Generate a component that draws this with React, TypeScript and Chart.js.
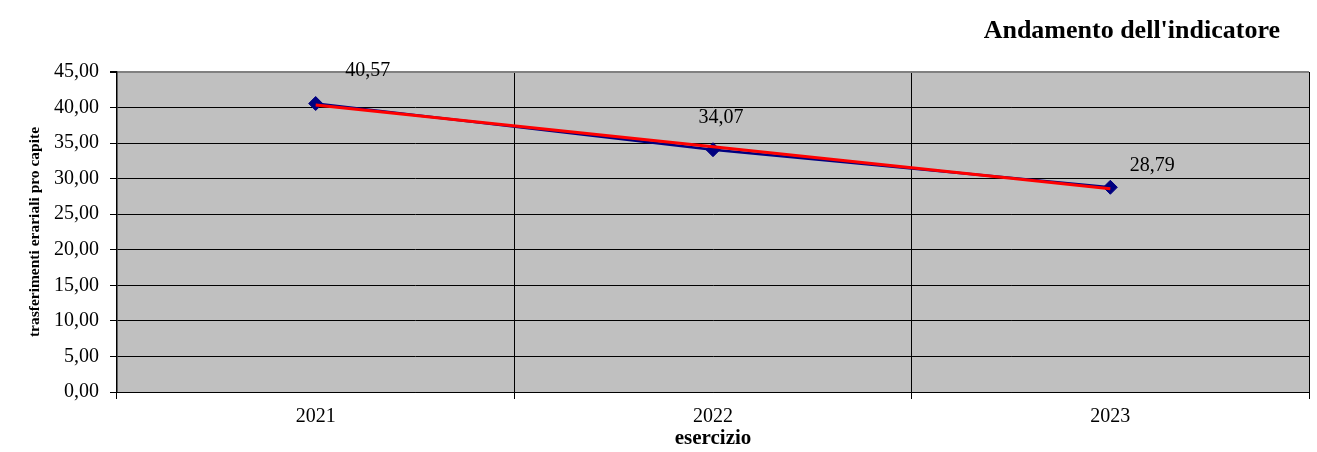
import React, { useEffect, useRef } from 'react';
import { Chart, registerables } from 'chart.js';

Chart.register(...registerables);

const categories = ['2021', '2022', '2023'];
const values = [40.57, 34.07, 28.79];
const trendValues = [40.37, 34.48, 28.59];
const valueLabels = ['40,57', '34,07', '28,79'];
const yMin = 0;
const yMax = 45;
const yStep = 5;
const chartTitle = "Andamento dell'indicatore";
const yTitle = 'trasferimenti erariali pro capite';
const xTitle = 'esercizio';

const SERIF = "'Liberation Serif', 'Times New Roman', serif";
const labelOffsets = [
  { dx: 52, dy: -33 },
  { dx: 8, dy: -32 },
  { dx: 42, dy: -22 },
];

const fmt = (v: number) => v.toFixed(2).replace('.', ',');

export default function App() {
  const ref = useRef<HTMLCanvasElement | null>(null);

  useEffect(() => {
    if (!ref.current) return;

    const bgPlugin = {
      id: 'plotBg',
      beforeDraw(chart: any) {
        const { ctx, chartArea } = chart;
        ctx.save();
        ctx.fillStyle = '#C0C0C0';
        ctx.fillRect(chartArea.left, chartArea.top, chartArea.right - chartArea.left, chartArea.bottom - chartArea.top);
        ctx.restore();
      },
    };

    const labelPlugin = {
      id: 'valLabels',
      afterDatasetsDraw(chart: any) {
        const { ctx } = chart;
        const meta = chart.getDatasetMeta(1);
        ctx.save();
        ctx.font = `20px ${SERIF}`;
        ctx.fillStyle = '#000';
        ctx.textAlign = 'center';
        ctx.textBaseline = 'middle';
        meta.data.forEach((pt: any, i: number) => {
          const o = labelOffsets[i];
          ctx.fillText(valueLabels[i], pt.x + o.dx, pt.y + o.dy);
        });
        ctx.restore();
      },
    };

    const titlePlugin = {
      id: 'mainTitle',
      afterDraw(chart: any) {
        const { ctx } = chart;
        ctx.save();
        ctx.font = `bold 26px ${SERIF}`;
        ctx.fillStyle = '#000';
        ctx.textAlign = 'right';
        ctx.textBaseline = 'alphabetic';
        ctx.fillText(chartTitle, 1280, 38);
        ctx.restore();
      },
    };

    const chart = new Chart(ref.current, {
      type: 'line',
      data: {
        labels: categories,
        datasets: [
          {
            label: 'trend',
            data: trendValues,
            borderColor: '#FF0000',
            borderWidth: 3,
            pointRadius: 0,
            fill: false,
            order: 0,
          },
          {
            label: 'valori',
            data: values,
            borderColor: '#000080',
            borderWidth: 2.5,
            pointStyle: 'rectRot',
            pointRadius: 7,
            pointBackgroundColor: '#000080',
            pointBorderColor: '#000080',
            pointBorderWidth: 1,
            fill: false,
            order: 1,
          },
        ],
      },
      options: {
        animation: false,
        responsive: true,
        maintainAspectRatio: false,
        layout: { padding: { top: 72, right: 8, left: 0, bottom: 0 } },
        plugins: {
          legend: { display: false },
          tooltip: { enabled: false },
          title: { display: false },
        },
        scales: {
          x: {
            offset: true,
            afterFit(scale: any) {
              scale.height = 60;
            },
            grid: {
              offset: true,
              drawOnChartArea: true,
              tickLength: 7,
              color: (ctx: any) => (ctx.index === categories.length ? '#808080' : '#000000'),
              lineWidth: (ctx: any) => (ctx.index === categories.length ? 2 : 1),
              tickColor: '#000000',
            },
            border: { display: true, color: '#000000', width: 1 },
            ticks: {
              color: '#000',
              font: { family: SERIF, size: 20 },
              padding: 6,
              maxRotation: 0,
            },
            title: {
              display: true,
              text: xTitle,
              color: '#000',
              font: { family: SERIF, size: 21, weight: 'bold' },
              padding: { top: 0, bottom: 1 },
            },
          },
          y: {
            min: yMin,
            max: yMax,
            afterFit(scale: any) {
              scale.width = 117;
            },
            ticks: {
              stepSize: yStep,
              color: '#000',
              font: { family: SERIF, size: 20 },
              padding: 11,
              callback: (v: any) => fmt(Number(v)),
            },
            grid: {
              tickLength: 7,
              color: (ctx: any) => (ctx.tick && ctx.tick.value === yMax ? '#808080' : '#000000'),
              lineWidth: (ctx: any) => (ctx.tick && ctx.tick.value === yMax ? 2 : 1),
              tickColor: '#000000',
            },
            border: { display: true, color: '#000000', width: 1.5 },
            title: {
              display: true,
              text: yTitle,
              color: '#000',
              font: { family: SERIF, size: 15.5, weight: 'bold' },
              padding: { top: 26, bottom: 0 },
            },
          },
        },
      },
      plugins: [bgPlugin, labelPlugin, titlePlugin],
    } as any);

    return () => chart.destroy();
  }, []);

  return (
    <div style={{ position: 'absolute', left: 0, top: 0, width: 1317, height: 452, background: '#fff' }}>
      <canvas ref={ref} />
    </div>
  );
}
